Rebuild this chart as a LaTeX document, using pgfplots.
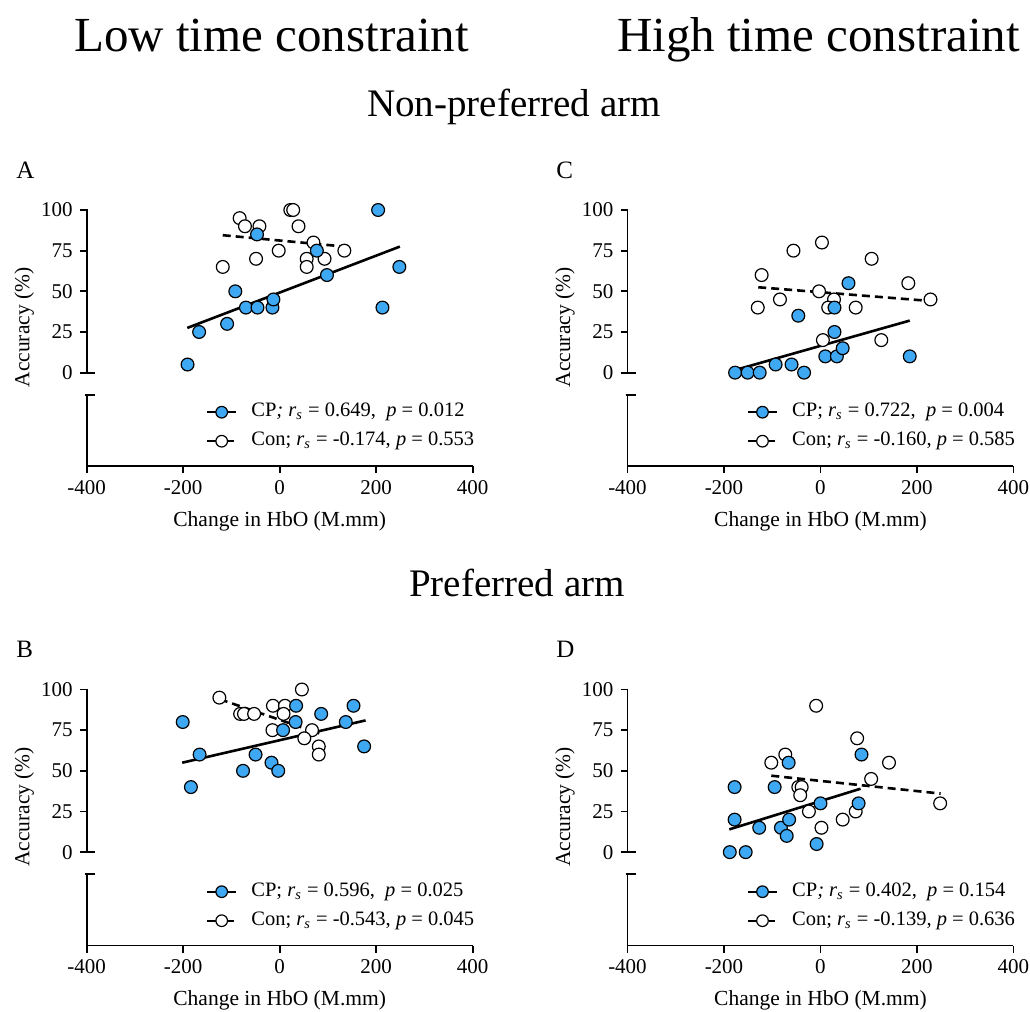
\documentclass[border=0pt]{standalone}
\usepackage{fontspec}
\setmainfont{Liberation Serif}
\usepackage{pgfplots}
\pgfplotsset{compat=1.18}
\newdimen\ppx \ppx=0.5pt
\definecolor{cpblue}{HTML}{3FA8F2}
\newcommand\rs{\textit{r}\textsubscript{\textit{s}}}
\newcommand\segaxis[1]{%
  \coordinate (#1top) at (axis cs:-400,100);
  \coordinate (#1zero) at (axis cs:-400,0);
  \coordinate (#1brk) at (axis cs:-400,-13.7);
  \coordinate (#1bot) at (axis cs:-400,-57.4);}
\newcommand\drawseg[1]{%
  \draw[line width=0.95pt, black, solid] ([yshift=0.45pt]#1top) -- (#1zero);
  \draw[line width=0.95pt, black, solid] (#1brk) -- (#1bot);
  \draw[line width=0.95pt, black, solid] (#1zero) -- ([xshift=8\ppx]#1zero);
  \draw[line width=0.95pt, black, solid] ([xshift=-2\ppx]#1brk) -- ([xshift=8\ppx]#1brk);}
\pgfplotsset{
 panel/.style={
  scale only axis, width=386\ppx, height=256\ppx,
  xmin=-400, xmax=400, ymin=-57.4, ymax=100,
  clip=false,
  axis x line*=bottom, axis y line*=left,
  axis line style={-, line width=0.95pt, black},
  y axis line style={draw=none},
  xtick={-400,-200,0,200,400}, xticklabels={-400,-200,0,200,400},
  ytick={0,25,50,75,100}, yticklabels={0,25,50,75,100},
  tick align=outside, major tick length=7\ppx,
  tick style={line width=0.95pt, black},
  ticklabel style={font=\fontsize{10.5}{12}\selectfont},
  xlabel={Change in HbO (M.mm)}, ylabel={Accuracy (\%)},
  label style={font=\fontsize{10.75}{12}\selectfont},
  xlabel style={at={(axis description cs:0.5,-0.215)}, anchor=center},
  ylabel style={at={(axis description cs:-0.162,0.541)}, anchor=center},
  legend style={draw=none, fill=none, at={(axis description cs:0.308,0.1535)}, anchor=west,
     font=\fontsize{10.25}{12}\selectfont, row sep=5pt, inner sep=0pt,
     nodes={inner sep=0pt, text height=7pt, text depth=2.5pt},
     /tikz/every odd column/.append style={column sep=14\ppx}},
  legend cell align=left,
  reverse legend,
 },
 cp/.style={only marks, mark=*, mark size=3.2pt, mark options={draw=black, fill=cpblue, line width=0.6pt, solid},
   legend image code/.code={
   \path[draw=black, line width=1.2pt, solid] (0pt,0pt) -- (14.5pt,0pt);
   \path[draw=black, fill=cpblue, line width=0.6pt, solid] (7.25pt,0pt) circle (2.9pt);}},
 con/.style={only marks, mark=*, mark size=3.2pt, mark options={draw=black, fill=white, line width=0.6pt, solid},
   legend image code/.code={
   \path[draw=black, line width=1.2pt, solid] (0pt,0pt) -- (4.5pt,0pt);
   \path[draw=black, line width=1.2pt, solid] (10.5pt,0pt) -- (13.5pt,0pt);
   \path[draw=black, fill=white, line width=0.6pt, solid] (7.25pt,0pt) circle (2.9pt);}},
 fitcp/.style={black, line width=1.3pt, no marks, forget plot},
 fitcon/.style={black, line width=1.3pt, dash pattern=on 4pt off 2.5pt, no marks, forget plot},
}
\begin{document}
\begin{tikzpicture}
\path[use as bounding box] (0,0) rectangle (1030\ppx,-1012\ppx);

% ---------- A ----------
\begin{axis}[panel, at={(86.7\ppx,-466\ppx)}, anchor=south west]
\addplot[fitcp] coordinates {(-191.5,27.5) (249,77.5)};
\addplot[fitcon] coordinates {(-118,84.5) (135,77.5)};
\addplot[con] table {
x y
22 100
28 100
-83 95
-72 90
-42 90
39 90
70 80
134 75
-2 75
-49 70
56 70
93 70
56 65
-118 65
};
\addlegendentry{Con; \rs\ = -0.174, \textit{p} = 0.553}
\addplot[cp] table {
x y
204 100
248 65
213 40
-47 85
77 75
98 60
-92 50
-70 40
-46 40
-15 40
-13 45
-109 30
-167 25
-191 5
};
\addlegendentry{CP\textit{;} \rs\ = 0.649,\enspace\textit{p} = 0.012}
\segaxis{a}
\end{axis}

% ---------- C ----------
\begin{axis}[panel, at={(627.5\ppx,-466\ppx)}, anchor=south west]
\addplot[fitcp] coordinates {(-177,1.6) (185,32)};
\addplot[fitcon] coordinates {(-129,52.5) (230,44)};
\addplot[con] table {
x y
3 80
-56 75
106 70
-122 60
182 55
-3 50
-84 45
28 45
228 45
-130 40
16 40
73 40
5 20
126 20
};
\addlegendentry{Con; \rs\ = -0.160, \textit{p} = 0.585}
\addplot[cp] table {
x y
-177 0
-151 0
-126 0
-93 5
-60 5
-34 0
-46 35
58 55
29 40
29 25
10 10
34 10
46 15
185 10
};
\addlegendentry{CP; \rs\ = 0.722,\enspace\textit{p} = 0.004}
\segaxis{c}
\end{axis}

% ---------- B ----------
\begin{axis}[panel, at={(86.7\ppx,-945.5\ppx)}, anchor=south west]
\addplot[fitcp] coordinates {(-202,55) (178,81)};
\addplot[fitcon] coordinates {(-124,94) (82,73)};
\addplot[con] table {
x y
-125 95
46 100
-82 85
-74 85
-53 85
-14 90
11 90
8 85
-15 75
67 75
51 70
81 65
81 60
};
\addlegendentry{Con; \rs\ = -0.543, \textit{p} = 0.045}
\addplot[cp] table {
x y
-201 80
-184 40
-166 60
-76 50
-50 60
-17 55
-3 50
7 75
33 80
34 90
86 85
137 80
153 90
175 65
};
\addlegendentry{CP; \rs\ = 0.596,\enspace\textit{p} = 0.025}
\segaxis{b}
\end{axis}

% ---------- D ----------
\begin{axis}[panel, at={(627.5\ppx,-945.5\ppx)}, anchor=south west]
\addplot[fitcp] coordinates {(-189,14) (83,39)};
\addplot[fitcon] coordinates {(-102,47) (249,36)};
\addplot[con] table {
x y
-9 90
76 70
-73 60
-102 55
142 55
105 45
-46 40
-39 40
-42 35
-24 25
73 25
46 20
2 15
248 30
};
\addlegendentry{Con; \rs\ = -0.139, \textit{p} = 0.636}
\addplot[cp] table {
x y
-188 0
-155 0
-178 40
-178 20
-127 15
-95 40
-82 15
-70 10
-65 20
-66 55
-8 5
0 30
79 30
85 60
};
\addlegendentry{CP\textit{;} \rs\ = 0.402,\enspace\textit{p} = 0.154}
\segaxis{d}
\end{axis}

\drawseg{a}\drawseg{b}\drawseg{c}\drawseg{d}

% ---------- titles ----------
\node[anchor=base, font=\fontsize{24.5}{28}\selectfont, inner sep=0pt] at (271.5\ppx,-52\ppx) {Low time constraint};
\node[anchor=base, font=\fontsize{24.5}{28}\selectfont, inner sep=0pt] at (818.5\ppx,-52\ppx) {High time constraint};
\node[anchor=base, font=\fontsize{19.5}{23}\selectfont, inner sep=0pt] at (514\ppx,-116\ppx) {Non-preferred arm};
\node[anchor=base, font=\fontsize{19.5}{23}\selectfont, inner sep=0pt] at (517\ppx,-596\ppx) {Preferred arm};
\node[anchor=base west, font=\fontsize{12.5}{14}\selectfont, inner sep=0pt] at (16\ppx,-178\ppx) {A};
\node[anchor=base west, font=\fontsize{12.5}{14}\selectfont, inner sep=0pt] at (556\ppx,-178\ppx) {C};
\node[anchor=base west, font=\fontsize{12.5}{14}\selectfont, inner sep=0pt] at (16\ppx,-657\ppx) {B};
\node[anchor=base west, font=\fontsize{12.5}{14}\selectfont, inner sep=0pt] at (556\ppx,-657\ppx) {D};
\end{tikzpicture}
\end{document}
